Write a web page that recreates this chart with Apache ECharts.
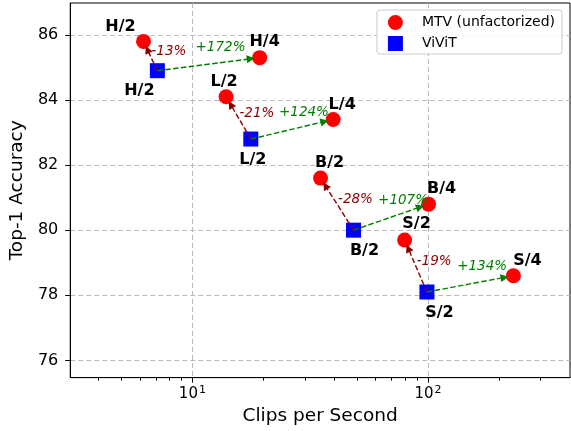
<!DOCTYPE html>
<html><head><meta charset="utf-8">
<script src="https://cdn.jsdelivr.net/npm/echarts@6/dist/echarts.min.js"></script>
<style>html,body{margin:0;padding:0;background:#fff}#c{width:571px;height:431px}</style>
</head><body><div id="c"></div>
<script>
// ---- data ----
const mtvNames = ['H/2', 'H/4', 'L/2', 'L/4', 'B/2', 'B/4', 'S/2', 'S/4'];
const mtvCps   = [6.2, 19.3, 13.9, 39.6, 35.0, 100.6, 79.6, 230.6];
const mtvAcc   = [85.8, 85.3, 84.1, 83.4, 81.6, 80.8, 79.7, 78.6];
const vivitNames = ['H/2', 'L/2', 'B/2', 'S/2'];
const vivitCps   = [7.1, 17.7, 48.3, 99.0];
const vivitAcc   = [84.9, 82.8, 80.0, 78.1];
const redPct   = ['-13%', '-21%', '-28%', '-19%'];
const greenPct = ['+172%', '+124%', '+107%', '+134%'];
const yTicks = [76, 78, 80, 82, 84, 86];
const xMajorTicks = [10, 100];
const xMinorTicks = [4, 5, 6, 7, 8, 9, 20, 30, 40, 50, 60, 70, 80, 90, 200, 300];

// ---- layout / style ----
const FONT = 'DejaVu Sans';
const mtvLabelOffset = [[-23, -15], [5, -15.5], [-2, -15], [9, -15], [9, -15.5], [13, -15], [12, -16], [14, -15]];
const vivitLabelOffset = [[-18, 20], [2, 21], [11, 20.5], [12.5, 21]];
const RED = '#ff0000', BLUE = '#0000ff', DARKRED = '#8b0000', GREEN = '#008000';

const chart = echarts.init(document.getElementById('c'), null, {renderer: 'canvas'});

const option = {
  animation: false,
  backgroundColor: '#fff',
  textStyle: {fontFamily: FONT},
  grid: {left: 69, right: 1, top: 3, bottom: 53, show: true, borderColor: '#000', borderWidth: 1, backgroundColor: 'transparent'},
  legend: {
    orient: 'vertical', right: 9, top: 10,
    itemWidth: 15, itemHeight: 15, itemGap: 6,
    padding: [5, 7, 3, 11],
    backgroundColor: 'rgba(255,255,255,0.85)', borderColor: '#cccccc', borderWidth: 1, borderRadius: 3,
    textStyle: {fontFamily: FONT, fontSize: 14, color: '#000', padding: [0, 0, 0, 14]},
    data: [{name: 'MTV (unfactorized)', icon: 'circle'}, {name: 'ViViT', icon: 'rect'}]
  },
  xAxis: [{
    type: 'log', logBase: 10, min: 3.03, max: 401,
    name: 'Clips per Second', nameLocation: 'middle', nameGap: 25,
    nameTextStyle: {fontFamily: FONT, fontSize: 18.5, color: '#000'},
    axisLine: {show: true, lineStyle: {color: '#000'}},
    axisTick: {show: true, inside: false, length: 5, customValues: xMajorTicks, lineStyle: {color: '#000'}},
    axisLabel: {
      customValues: xMajorTicks, margin: 7, color: '#000',
      formatter: v => '{b|10}{s|' + Math.round(Math.log10(v)) + '}',
      rich: {
        b: {fontFamily: FONT, fontSize: 15, color: '#000'},
        s: {fontFamily: FONT, fontSize: 11, color: '#000', padding: [0, 0, 9, 1]}
      }
    },
    splitLine: {show: true, lineStyle: {color: '#b8b8b8', width: 1, type: [5, 3]}}
  }, {
    type: 'log', logBase: 10, min: 3.03, max: 401, position: 'bottom', gridIndex: 0,
    axisLine: {show: false},
    axisTick: {show: true, inside: false, length: 3, customValues: xMinorTicks, lineStyle: {color: '#000'}},
    axisLabel: {show: false},
    splitLine: {show: false}
  }],
  yAxis: {
    type: 'value', min: 75.47, max: 86.98,
    name: 'Top-1 Accuracy', nameLocation: 'middle', nameGap: 34,
    nameTextStyle: {fontFamily: FONT, fontSize: 18.5, color: '#000'},
    axisLine: {show: true, lineStyle: {color: '#000'}},
    axisTick: {show: true, inside: false, length: 5, customValues: yTicks, lineStyle: {color: '#000'}},
    axisLabel: {customValues: yTicks, margin: 12, fontFamily: FONT, fontSize: 16, color: '#000'},
    splitLine: {show: true, lineStyle: {color: '#b8b8b8', width: 1, type: [5, 3]}}
  },
  series: [{
    id: 'mtv', name: 'MTV (unfactorized)', type: 'scatter', xAxisIndex: 0, yAxisIndex: 0,
    symbol: 'circle', symbolSize: 15, itemStyle: {color: RED, opacity: 1},
    emphasis: {disabled: true}, z: 2,
    label: {show: true, position: 'inside', fontFamily: FONT, fontWeight: 'bold', fontSize: 16, color: '#000',
      formatter: p => mtvNames[p.dataIndex]},
    data: mtvCps.map((x, i) => ({value: [x, mtvAcc[i]], label: {offset: mtvLabelOffset[i]}}))
  }, {
    id: 'vivit', name: 'ViViT', type: 'scatter', xAxisIndex: 0, yAxisIndex: 0,
    symbol: 'rect', symbolSize: 15, itemStyle: {color: BLUE, opacity: 1},
    emphasis: {disabled: true}, z: 3,
    label: {show: true, position: 'inside', fontFamily: FONT, fontWeight: 'bold', fontSize: 16, color: '#000',
      formatter: p => vivitNames[p.dataIndex]},
    data: vivitCps.map((x, i) => ({value: [x, vivitAcc[i]], label: {offset: vivitLabelOffset[i]}}))
  }, {
    id: 'arrows', type: 'lines', coordinateSystem: 'cartesian2d', xAxisIndex: 0, yAxisIndex: 0,
    symbol: ['none', 'triangle'], symbolSize: 8, silent: true, z: 5,
    lineStyle: {width: 1.4, type: [5.5, 2.4], opacity: 1},
    data: []
  }]
};
chart.setOption(option);

// arrows: from each ViViT point to its MTV /2 (red) and /4 (green) counterpart, shortened at the head
const toPx = v => chart.convertToPixel({seriesIndex: 0}, v);
const toData = p => chart.convertFromPixel({seriesIndex: 0}, p);
const SHRINK = 9;
const arrows = [];
const texts = [];
vivitCps.forEach((x, i) => {
  const from = [x, vivitAcc[i]];
  const p0 = toPx(from);
  [[2 * i, DARKRED, redPct[i]], [2 * i + 1, GREEN, greenPct[i]]].forEach(([j, col, txt], k) => {
    const to = [mtvCps[j], mtvAcc[j]];
    const p1 = toPx(to);
    const dx = p1[0] - p0[0], dy = p1[1] - p0[1];
    const len = Math.sqrt(dx * dx + dy * dy);
    const pe = [p1[0] - dx / len * SHRINK, p1[1] - dy / len * SHRINK];
    arrows.push({coords: [from, toData(pe)], lineStyle: {color: col}});
    const mx = (p0[0] + p1[0]) / 2, my = (p0[1] + p1[1]) / 2;
    texts.push({
      type: 'text', z: 20, silent: true,
      x: k === 0 ? mx + 1 : mx + 12, y: k === 0 ? my - 4.5 : my - 17,
      style: {text: txt, fill: col, fontFamily: FONT, fontStyle: 'italic', fontSize: 13.5,
        align: k === 0 ? 'left' : 'center', verticalAlign: 'middle'}
    });
  });
});
chart.setOption({series: [{id: 'arrows', data: arrows}], graphic: texts});
</script>
</body></html>
